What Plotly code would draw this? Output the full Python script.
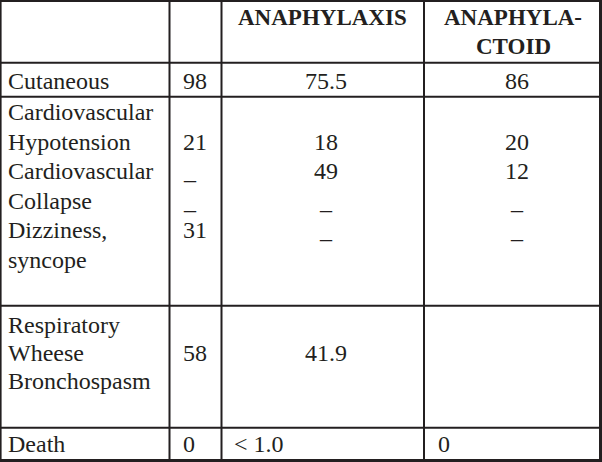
import plotly.graph_objects as go

# ---------------- data (cell texts) ----------------
header = ["", "", "ANAPHYLAXIS", "ANAPHYLA-<br>CTOID"]
symptoms = [
    "Cutaneous",
    "Cardiovascular<br>Hypotension<br>Cardiovascular<br>Collapse<br>Dizziness,<br>syncope",
    "Respiratory<br>Wheese<br>Bronchospasm",
    "Death",
]
overall = ["98", "<br>21<br>_<br>_<br>31", "<br>58", "0"]
anaphylaxis = ["75.5", "<br>18<br>49<br>_<br>_", "<br>41.9", "< 1.0"]
anaphylactoid = ["86", "<br>20<br>12<br>_<br>_", "", "0"]

# ---------------- layout constants ----------------
W, H = 602, 462
COL_X = [0, 169.5, 221.5, 424, 602]
ROW_Y = [0, 62.7, 96.7, 305.7, 427.7, 462]
FIRST_BASELINE = [25.5, 26.3, 23.7, 27.3, 24.7]
LINE_H = [29, 29.5, 29.5, 28.3, 29.5]
HEAD_FS, BODY_FS = 23, 24
ASC = 0.891
INK = "#231f20"
FONT = "Liberation Serif, Times New Roman, serif"

COL_ALIGN = ["left", "left", "center", "center"]
LEFT_PAD = [8.4, 13, 12.5, 13.5]
CENTER_SHIFT = [0, 0, 3, 4]
LEFT_CELLS = {(4, 2), (4, 3)}  # (row, col) cells whose text is left-aligned

rows = [header] + [
    [symptoms[i], overall[i], anaphylaxis[i], anaphylactoid[i]]
    for i in range(len(symptoms))
]

annotations = []
for r, row in enumerate(rows):
    fs = HEAD_FS if r == 0 else BODY_FS
    for c, txt in enumerate(row):
        for k, line in enumerate(txt.split("<br>")):
            if not line.strip():
                continue
            baseline = ROW_Y[r] + FIRST_BASELINE[r] + k * LINE_H[r]
            ytop = baseline - ASC * fs
            left = COL_ALIGN[c] == "left" or (r, c) in LEFT_CELLS
            if left:
                x = COL_X[c] + LEFT_PAD[c]
                xanchor = "left"
            else:
                x = (COL_X[c] + COL_X[c + 1]) / 2 + (CENTER_SHIFT[c] if r > 0 else 0)
                xanchor = "center"
            annotations.append(dict(
                x=x, y=ytop, xref="x", yref="y",
                text=(f"<b>{line}</b>" if r == 0 else line.replace("<", "&lt;")),
                showarrow=False, xanchor=xanchor, yanchor="top",
                align="left" if left else "center",
                borderpad=0, borderwidth=0,
                font=dict(family=FONT, size=fs, color=INK),
            ))

shapes = []
# inner vertical lines
for x in COL_X[1:-1]:
    shapes.append(dict(type="line", xref="x", yref="y", x0=x, x1=x, y0=0, y1=H,
                       line=dict(color=INK, width=2)))
# inner horizontal lines
for y in ROW_Y[1:-1]:
    shapes.append(dict(type="line", xref="x", yref="y", x0=0, x1=W, y0=y, y1=y,
                       line=dict(color=INK, width=2)))
# outer border
shapes += [
    dict(type="line", xref="x", yref="y", x0=0, x1=W, y0=1, y1=1, line=dict(color=INK, width=2)),
    dict(type="line", xref="x", yref="y", x0=0, x1=W, y0=460.5, y1=460.5, line=dict(color=INK, width=3)),
    dict(type="line", xref="x", yref="y", x0=0.8, x1=0.8, y0=0, y1=H, line=dict(color=INK, width=1.6)),
    dict(type="line", xref="x", yref="y", x0=600.5, x1=600.5, y0=0, y1=H, line=dict(color=INK, width=3)),
]

fig = go.Figure(go.Scatter(x=[], y=[], hoverinfo="skip", showlegend=False))
fig.update_layout(
    width=W, height=H,
    margin=dict(l=0, r=0, t=0, b=0),
    paper_bgcolor="white", plot_bgcolor="white",
    xaxis=dict(range=[0, W], visible=False, fixedrange=True),
    yaxis=dict(range=[H, 0], visible=False, fixedrange=True),
    shapes=shapes, annotations=annotations,
    showlegend=False,
)
fig.write_html(
    "out.html",
    config={"displayModeBar": False, "staticPlot": True},
    post_script="document.body.style.margin='0';document.body.style.overflow='hidden';",
)
